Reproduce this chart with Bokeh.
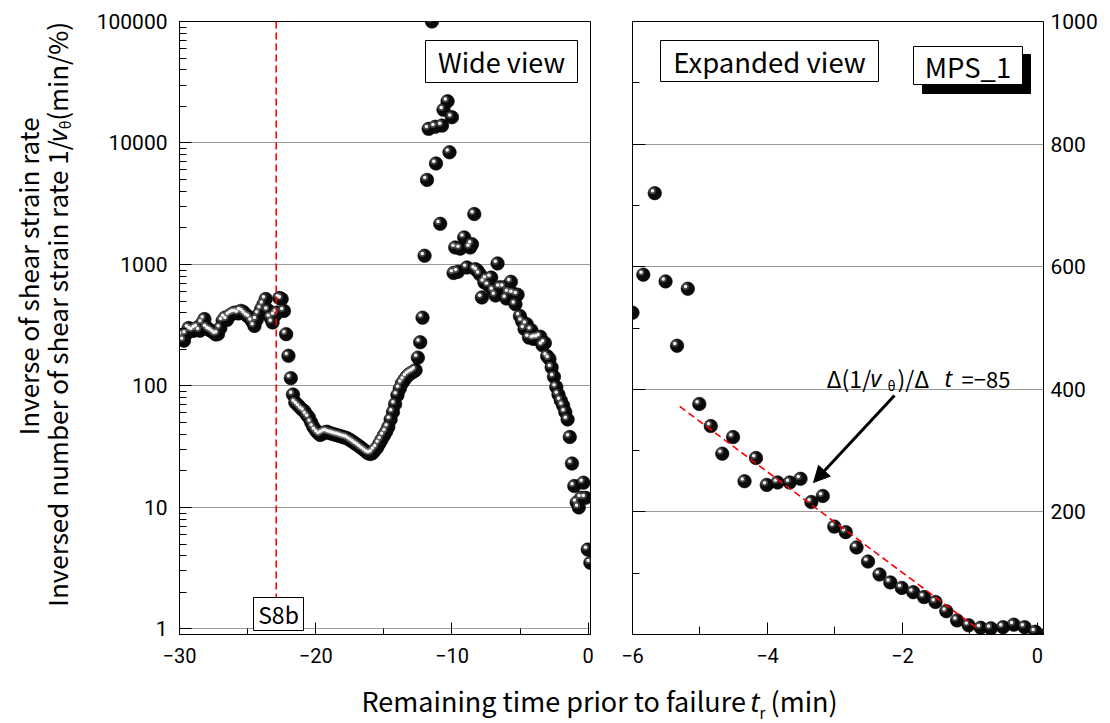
import math
from bokeh.plotting import figure
from bokeh.layouts import row, column
from bokeh.models import (FixedTicker, Range1d, LinearAxis, BoxAnnotation, Label,
                          Arrow, NormalHead, CustomJSTickFormatter)
from bokeh.embed import file_html
from bokeh.resources import INLINE

# ---------------- data ----------------
# wide-view only part of the series (t < -6.2 min)
t_wide = [-30.00, -29.83, -29.67, -29.50, -29.33, -29.17, -29.00, -28.83, -28.67, -28.50,
          -28.33, -28.17, -28.00, -27.83, -27.67, -27.50, -27.33, -27.17, -27.00, -26.83,
          -26.67, -26.50, -26.33, -26.17, -26.00, -25.83, -25.67, -25.50, -25.33, -25.17,
          -25.00, -24.83, -24.67, -24.50, -24.33, -24.17, -24.00, -23.83, -23.67, -23.50,
          -23.33, -23.17, -23.00, -22.83, -22.67, -22.50, -22.33, -22.17, -22.00, -21.83,
          -21.67, -21.50,
          -21.33, -21.17, -21.00, -20.83, -20.67, -20.50, -20.33, -20.17, -20.00, -19.83,
          -19.67, -19.50, -19.33, -19.17, -19.00, -18.83, -18.67, -18.50, -18.33, -18.17,
          -18.00, -17.83, -17.67, -17.50, -17.33, -17.17, -17.00, -16.83, -16.67, -16.50,
          -16.33, -16.17, -16.00, -15.83, -15.67, -15.50, -15.33, -15.17, -15.00, -14.83,
          -14.67, -14.50, -14.33, -14.17, -14.00, -13.83, -13.67, -13.50, -13.33, -13.17,
          -13.00, -12.83, -12.67, -12.50, -12.33,
          -12.16, -12.01, -11.83, -11.71, -11.47, -11.23, -11.17, -10.86, -10.73, -10.62,
          -10.32, -10.18, -10.00, -9.88, -9.76, -9.56, -9.39, -9.10, -8.90, -8.66,
          -8.53, -8.36, -8.29, -8.12, -7.95, -7.80, -7.62, -7.45, -7.30, -7.12,
          -6.95, -6.80, -6.65, -6.48]
v_wide = [250, 262, 236, 268, 300, 290, 284, 295, 303, 285,
          330, 355, 303, 290, 284, 275, 265, 268, 300, 344,
          365, 350, 380, 390, 400, 402, 395, 415, 408, 390,
          375, 365, 340, 312, 350, 390, 430, 470, 520, 420,
          365, 333, 380, 402, 530, 520, 415, 267, 177, 116,
          85, 73,
          70, 67, 64, 62, 58, 55, 50, 46, 43, 41,
          39.5, 40.5, 41.5, 42, 41, 40.5, 40, 39.5, 39, 38.5,
          38, 37.5, 37, 36, 35, 34, 33, 32, 31, 30,
          29, 28, 27.5, 28, 29.5, 31, 33.5, 36, 39, 42,
          46, 53, 61, 71, 84, 95, 105, 112, 119, 124,
          128, 131, 135, 171, 229,
          365, 1180, 4970, 13070, 100000, 13600, 6780, 2160, 13900, 18740,
          22050, 8380, 16300, 851, 1380, 870, 1350, 1670, 944, 1380,
          1470, 2600, 915, 889, 830, 535, 712, 760, 670, 780,
          610, 555, 1020, 648]

# last six minutes (shown in both panels)
t_exp = [-6.17, -6.00, -5.84, -5.67, -5.51, -5.34, -5.18, -5.01, -4.84, -4.67,
         -4.51, -4.34, -4.17, -4.01, -3.85, -3.67, -3.51, -3.35, -3.18, -3.01,
         -2.84, -2.68, -2.51, -2.34, -2.18, -2.01, -1.84, -1.68, -1.51, -1.35,
         -1.19, -1.02, -0.84, -0.69, -0.51, -0.35, -0.19, -0.03, 0.16]
v_exp = [648, 525, 587, 720, 576, 471, 564, 376, 340, 295,
         322, 250, 288, 244, 248, 248, 254, 216, 226, 176,
         167, 142, 119, 98, 85, 76, 69, 61, 53, 38,
         23, 15, 11, 10, 12, 16, 12, 4.5, 3.5]

fit_t = [-5.30, -0.88]
fit_v = [372, 9]
s8b_t = -22.9

left_x_ticks = [-30, -20, -10, 0]
left_x_minor = [-25, -15, -5]
left_y_ticks = [1, 10, 100, 1000, 10000, 100000]
right_x_ticks = [-6, -4, -2, 0]
right_x_minor = [-5, -3, -1]
right_y_ticks = [0, 200, 400, 600, 800, 1000]
right_y_minor = [100, 300, 500, 700, 900]
right_y_labels = [200, 400, 600, 800, 1000]

t_all = t_wide + t_exp
v_all = v_wide + v_exp

# ---------------- geometry ----------------
PAGE_H = 723
H = 676
TOP = 21
FRAME_H = 613
P0_W = 80
P1_W = 518
P2_W = 1110 - P0_W - P1_W
FRAME_W = 411
P1_FRAME_LEFT = 179
P2_FRAME_LEFT = 632
L_XR = (-30.0, 0.17)
R_XR = (-6.0, 0.09)
L_YR = (0.9, 100000.0)
R_YR = (0.0, 1000.0)
LOG_LO, LOG_HI = math.log10(L_YR[0]), math.log10(L_YR[1])

TICK_FONT = "Roboto"
TEXT_FONT = "Noto Sans CJK JP"
ITAL_FONT = "Noto Sans"


def lx(px):
    return L_XR[0] + (px - P1_FRAME_LEFT) * (L_XR[1] - L_XR[0]) / FRAME_W


def ly(py):
    return 10 ** (LOG_LO + (TOP + FRAME_H - py) * (LOG_HI - LOG_LO) / FRAME_H)


def rx(px):
    return R_XR[0] + (px - P2_FRAME_LEFT) * (R_XR[1] - R_XR[0]) / FRAME_W


def ry(py):
    return R_YR[0] + (TOP + FRAME_H - py) * (R_YR[1] - R_YR[0]) / FRAME_H


def minus_fmt():
    return CustomJSTickFormatter(code="return tick < 0 ? '\u2212' + Math.abs(tick) : String(tick);")


def style_axis(ax, tin, minin, standoff, size="21px"):
    ax.major_tick_in = tin
    ax.major_tick_out = 0
    ax.minor_tick_in = minin
    ax.minor_tick_out = 0
    ax.axis_line_color = "black"
    ax.major_tick_line_color = "black"
    ax.minor_tick_line_color = "black"
    ax.major_label_text_font = TICK_FONT
    ax.major_label_text_font_size = size
    ax.major_label_text_color = "black"
    ax.major_label_standoff = standoff


def spheres(p, xs, ys, px_per_x, shift_y):
    p.scatter(xs, ys, marker="circle", size=13.5, fill_color="#0a0a0a", line_color="black", line_width=0.6)
    hx = [x - 2.3 / px_per_x for x in xs]
    hy = [shift_y(y, 2.3) for y in ys]
    p.scatter(hx, hy, marker="circle", size=7, fill_color="#888888", fill_alpha=0.45, line_color=None)
    p.scatter(hx, hy, marker="circle", size=3.5, fill_color="#f4f4f4", line_color=None)


def txt_label(x, y, text, size, font=TEXT_FONT, style="normal", align="left",
              baseline="alphabetic", angle=0.0):
    return Label(x=x, y=y, text=text, angle=angle, text_align=align, text_baseline=baseline,
                 text_font=font, text_font_style=style, text_font_size=size, text_color="black")


# ---------------- left label strip (rotated y title) ----------------
p0 = figure(width=P0_W, height=H, x_range=Range1d(0, P0_W), y_range=Range1d(0, H),
            toolbar_location=None, output_backend="svg", x_axis_location=None,
            y_axis_location=None, min_border=0, outline_line_color=None)
p0.xgrid.visible = False
p0.ygrid.visible = False
rot = math.pi / 2
p0.add_layout(txt_label(27, H - 281, "Inverse of shear strain rate", "26px",
                        align="center", baseline="middle", angle=rot))
p0.add_layout(txt_label(56, H - 388, "Inversed number of shear strain rate 1/", "26px",
                        align="center", baseline="middle", angle=rot))
p0.add_layout(txt_label(56, H - 126, "v", "26px", font=ITAL_FONT, style="italic",
                        align="center", baseline="middle", angle=rot))
p0.add_layout(txt_label(64, H - 114, "\u03b8", "15px", align="center", baseline="middle", angle=rot))
p0.add_layout(txt_label(56, H - 55, "(min/%)", "26px", align="center", baseline="middle", angle=rot))

# ---------------- left panel (wide view) ----------------
p1 = figure(width=P1_W, height=H, x_range=Range1d(*L_XR), y_range=Range1d(*L_YR),
            y_axis_type="log", toolbar_location=None, output_backend="svg",
            min_border_left=P1_FRAME_LEFT - P0_W,
            min_border_right=P1_W - (P1_FRAME_LEFT - P0_W) - FRAME_W,
            min_border_top=TOP, min_border_bottom=H - TOP - FRAME_H,
            background_fill_color="white", border_fill_color="white")
p1.outline_line_color = "black"
p1.outline_line_width = 1
p1.xaxis.ticker = FixedTicker(ticks=left_x_ticks, minor_ticks=left_x_minor)
p1.xaxis.formatter = minus_fmt()
style_axis(p1.xaxis[0], 12, 6, 13, "20px")
p1.yaxis.ticker = FixedTicker(ticks=left_y_ticks,
                              minor_ticks=[k * d for d in left_y_ticks[:-1] for k in range(2, 10)])
p1.yaxis.formatter = CustomJSTickFormatter(code="return tick.toFixed(0);")
style_axis(p1.yaxis[0], 12, 7, 12)
p1.xgrid.visible = False
p1.ygrid.ticker = FixedTicker(ticks=left_y_ticks)
p1.ygrid.grid_line_color = "#9a9a9a"
p1.ygrid.grid_line_width = 1

lkx = FRAME_W / (L_XR[1] - L_XR[0])
lky = FRAME_H / (LOG_HI - LOG_LO)
spheres(p1, t_all, v_all, lkx, lambda y, d: y * 10 ** (d / lky))
p1.segment(x0=[s8b_t], y0=[L_YR[1]], x1=[s8b_t], y1=[ly(597)], line_color="red",
           line_width=1.6, line_dash="7 4")

p1.add_layout(BoxAnnotation(left=lx(425), right=lx(577), top=ly(40), bottom=ly(82),
                            fill_color="white", fill_alpha=1, line_color="black",
                            line_width=1, line_alpha=1))
p1.add_layout(txt_label(lx(501), ly(61), "Wide view", "27px", align="center", baseline="middle"))
p1.add_layout(BoxAnnotation(left=lx(253), right=lx(303), top=ly(597), bottom=ly(630),
                            fill_color="white", fill_alpha=1, line_color="black",
                            line_width=1, line_alpha=1))
p1.add_layout(txt_label(lx(278), ly(613.5), "S8b", "23px", align="center", baseline="middle"))

# ---------------- right panel (expanded view) ----------------
p2 = figure(width=P2_W, height=H, x_range=Range1d(*R_XR), y_range=Range1d(*R_YR),
            y_axis_location="right", toolbar_location=None, output_backend="svg",
            min_border_left=P2_FRAME_LEFT - P0_W - P1_W,
            min_border_right=P2_W - (P2_FRAME_LEFT - P0_W - P1_W) - FRAME_W,
            min_border_top=TOP, min_border_bottom=H - TOP - FRAME_H,
            background_fill_color="white", border_fill_color="white")
p2.outline_line_color = "black"
p2.outline_line_width = 1
p2.xaxis.ticker = FixedTicker(ticks=right_x_ticks, minor_ticks=right_x_minor)
p2.xaxis.formatter = minus_fmt()
style_axis(p2.xaxis[0], 12, 8, 13, "20px")
p2.yaxis.ticker = FixedTicker(ticks=right_y_labels)
style_axis(p2.yaxis[0], 0, 0, 7)
p2.yaxis.axis_line_color = None
p2.yaxis.major_tick_line_color = None
p2.yaxis.minor_tick_line_color = None
left_ax = LinearAxis(ticker=FixedTicker(ticks=right_y_ticks, minor_ticks=right_y_minor),
                     formatter=CustomJSTickFormatter(code="return '';"))
style_axis(left_ax, 13, 7, 0)
left_ax.major_label_text_color = None
p2.add_layout(left_ax, "left")
p2.xgrid.visible = False
p2.ygrid.ticker = FixedTicker(ticks=right_y_labels[:-1])
p2.ygrid.grid_line_color = "#9a9a9a"
p2.ygrid.grid_line_width = 1

rkx = FRAME_W / (R_XR[1] - R_XR[0])
rky = FRAME_H / (R_YR[1] - R_YR[0])
spheres(p2, t_exp, v_exp, rkx, lambda y, d: y + d / rky)
p2.line(fit_t, fit_v, line_color="red", line_width=1.6, line_dash="7 4")

p2.add_layout(BoxAnnotation(left=rx(660), right=rx(878), top=ry(40), bottom=ry(81),
                            fill_color="white", fill_alpha=1, line_color="black",
                            line_width=1, line_alpha=1))
p2.add_layout(txt_label(rx(769), ry(60.5), "Expanded view", "27.5px", align="center", baseline="middle"))
p2.add_layout(BoxAnnotation(left=rx(922), right=rx(1030), top=ry(54), bottom=ry(93),
                            fill_color="black", fill_alpha=1, line_color="black", line_alpha=1))
p2.add_layout(BoxAnnotation(left=rx(913), right=rx(1022), top=ry(46), bottom=ry(84),
                            fill_color="white", fill_alpha=1, line_color="black",
                            line_width=1, line_alpha=1))
p2.add_layout(txt_label(rx(967.5), ry(65), "MPS_1", "27.5px", align="center", baseline="middle"))

p2.add_layout(Arrow(end=NormalHead(size=16, fill_color="black", line_color="black"),
                    x_start=rx(894), y_start=ry(395), x_end=rx(813), y_end=ry(482),
                    line_width=3, line_color="black"))

base_y = ry(377)
for text, px, font, style, size, yy in [
        ("\u0394(1/", 826, TEXT_FONT, "normal", "23px", base_y),
        ("v", 870, ITAL_FONT, "italic", "23px", base_y),
        ("\u03b8", 887, TEXT_FONT, "normal", "14px", ry(384)),
        (")/\u0394", 897, TEXT_FONT, "normal", "23px", base_y),
        ("t", 944, ITAL_FONT, "italic", "23px", base_y),
        ("=\u221285", 961, TEXT_FONT, "normal", "22px", base_y)]:
    p2.add_layout(txt_label(rx(px), yy, text, size, font=font, style=style))

# ---------------- bottom label strip (x title) ----------------
p3 = figure(width=1110, height=PAGE_H - H, x_range=Range1d(0, 1110), y_range=Range1d(0, PAGE_H - H),
            toolbar_location=None, output_backend="svg", x_axis_location=None,
            y_axis_location=None, min_border=0, outline_line_color=None)
p3.xgrid.visible = False
p3.ygrid.visible = False
for text, px, font, style, size, py in [
        ("Remaining time prior to failure", 361, TEXT_FONT, "normal", "27px", 700),
        ("t", 750, ITAL_FONT, "italic", "27px", 701),
        ("r", 759, TEXT_FONT, "normal", "15px", 712),
        ("(min)", 770, TEXT_FONT, "normal", "27px", 700)]:
    p3.add_layout(txt_label(px, PAGE_H - py, text, size, font=font, style=style, baseline="middle"))

layout = column(row(p0, p1, p2), p3)
open("out.html", "w").write(file_html(layout, INLINE))
